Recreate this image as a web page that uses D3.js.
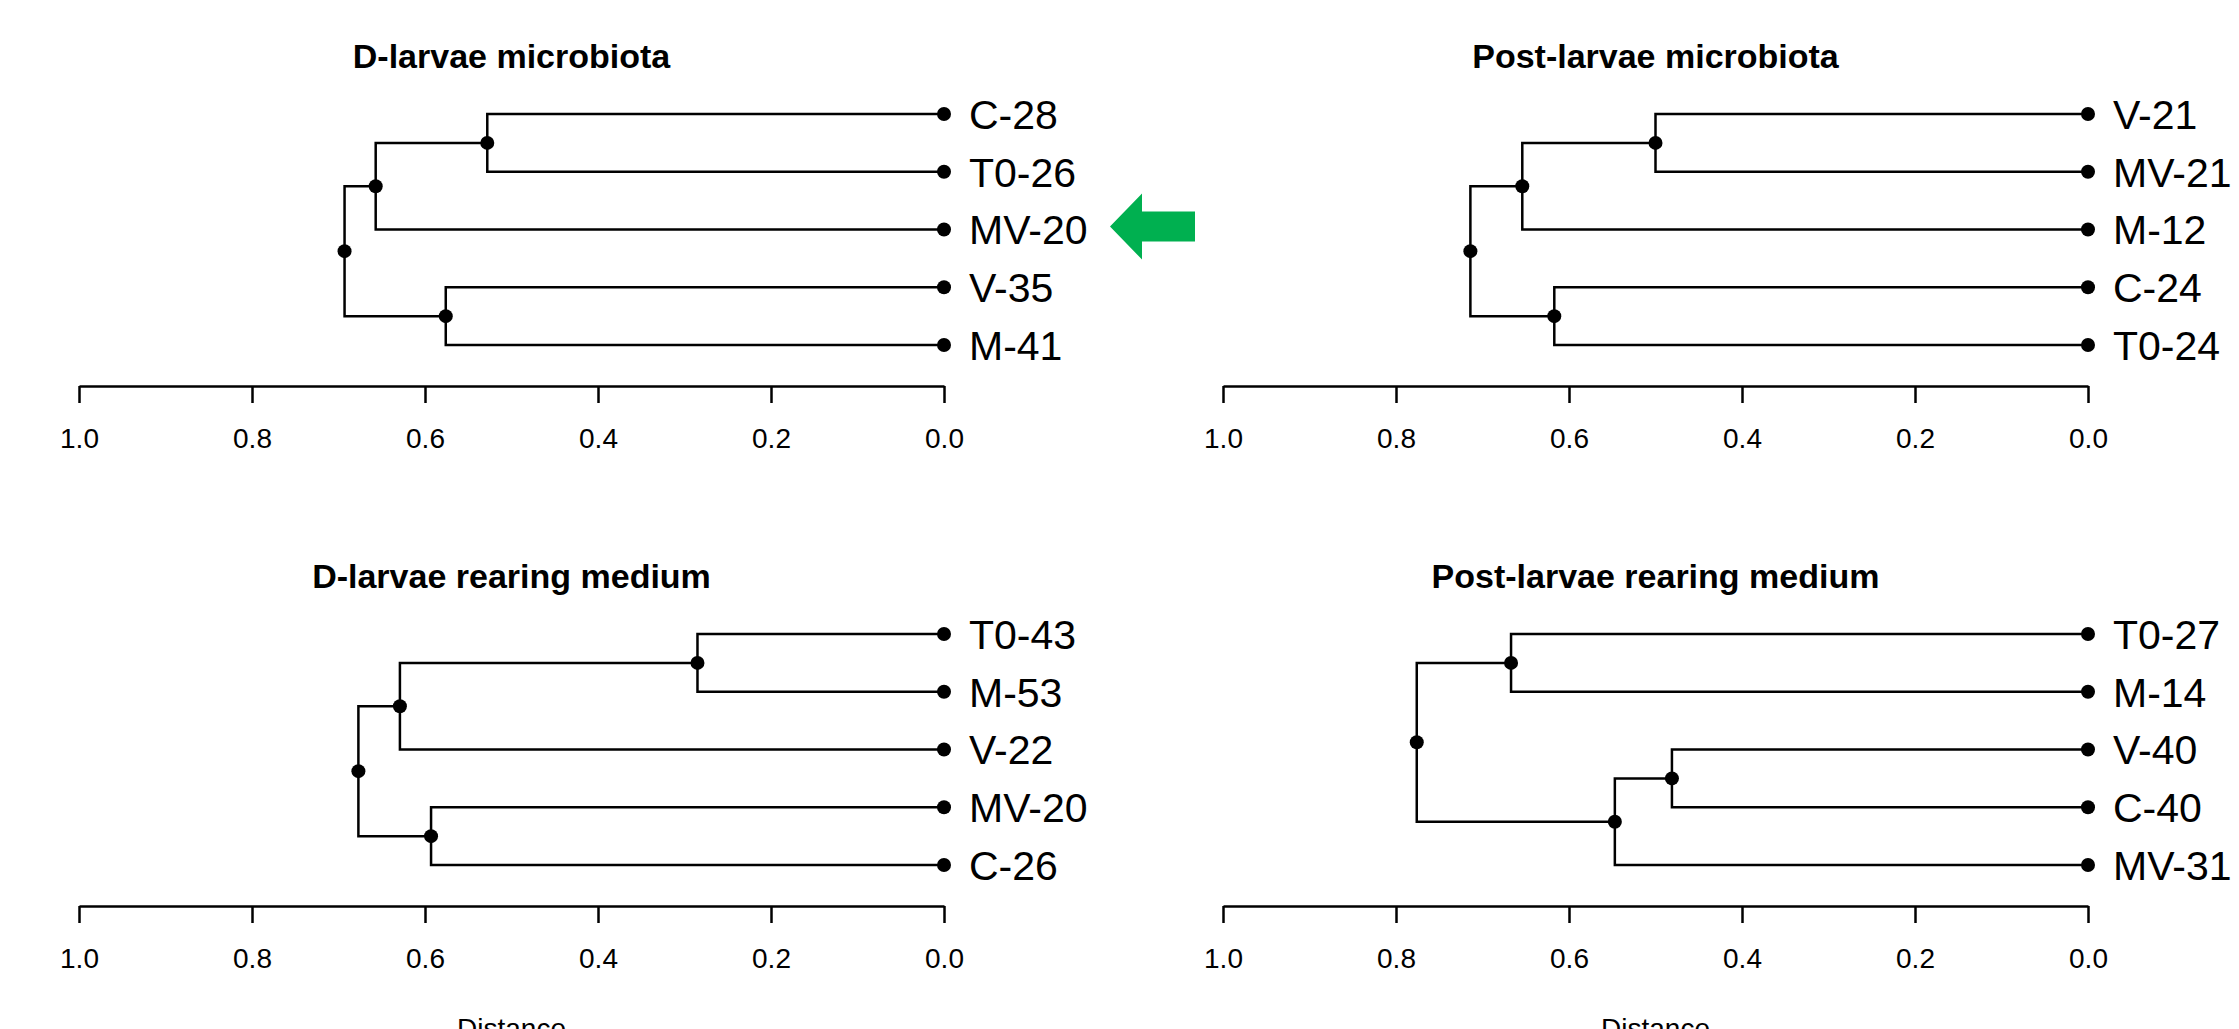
<!DOCTYPE html>
<html>
<head>
<meta charset="utf-8">
<script src="https://cdn.jsdelivr.net/npm/d3@7"></script>
<style>
  body { margin: 0; background: #fff; }
  svg { display: block; }
  text { font-family: Arial, "Liberation Sans", sans-serif; fill: #000; }
</style>
</head>
<body>
<script>

// DATA (hclust style: negative = leaf index, positive = earlier merge step)

var titles = ["D-larvae microbiota", "Post-larvae microbiota", "D-larvae rearing medium", "Post-larvae rearing medium"];

var leavesDM = ["C-28", "T0-26", "MV-20", "V-35", "M-41"];
var mergeDM = [[-1, -2], [1, -3], [-4, -5], [2, 3]];
var heightDM = [0.528, 0.657, 0.576, 0.693];

var leavesPM = ["V-21", "MV-21", "M-12", "C-24", "T0-24"];
var mergePM = [[-1, -2], [1, -3], [-4, -5], [2, 3]];
var heightPM = [0.500, 0.654, 0.617, 0.714];

var leavesDR = ["T0-43", "M-53", "V-22", "MV-20", "C-26"];
var mergeDR = [[-1, -2], [1, -3], [-4, -5], [2, 3]];
var heightDR = [0.285, 0.629, 0.593, 0.677];

var leavesPR = ["T0-27", "M-14", "V-40", "C-40", "MV-31"];
var mergePR = [[-1, -2], [-3, -4], [2, -5], [1, 3]];
var heightPR = [0.667, 0.481, 0.547, 0.776];

var tickValues = [1.0, 0.8, 0.6, 0.4, 0.2, 0.0];
var axisTitle = "Distance";
var highlight = "MV-20"; // arrow in first panel

var panels = [
    {title: titles[0], leaves: leavesDM, merge: mergeDM, height: heightDM, col: 0, row: 0, arrow: true},
    {title: titles[1], leaves: leavesPM, merge: mergePM, height: heightPM, col: 1, row: 0},
    {title: titles[2], leaves: leavesDR, merge: mergeDR, height: heightDR, col: 0, row: 1, xlab: true},
    {title: titles[3], leaves: leavesPR, merge: mergePR, height: heightPR, col: 1, row: 1, xlab: true}
];

// PAGE

var width = 2239, height = 1029;

var svg = d3.select("body").append("svg")
    .attr("width", width).attr("height", height);

svg.append("rect").attr("width", width).attr("height", height).attr("fill", "#fff");

var colX = [[79, 944], [1223, 2088]];   // x of distance 1.0 and 0.0
var rowY = [0, 520];
var leafTop = 114, leafBottom = 345, axisY = 386;

panels.forEach(function (p) {
    var g = svg.append("g").attr("transform", "translate(0," + rowY[p.row] + ")");

    var xScale = d3.scaleLinear().domain([1, 0]).range(colX[p.col]);
    var yScale = d3.scalePoint().domain(p.leaves).range([leafTop, leafBottom]);

    // node positions
    var leafPos = p.leaves.map(function (l) { return {x: xScale(0), y: yScale(l)}; });
    var nodePos = [];
    function pos(i) { return i < 0 ? leafPos[-i - 1] : nodePos[i - 1]; }
    p.merge.forEach(function (m, i) {
        var a = pos(m[0]), b = pos(m[1]);
        nodePos.push({x: xScale(p.height[i]), y: (a.y + b.y) / 2, a: a, b: b});
    });

    // branches
    nodePos.forEach(function (n) {
        var path = d3.path();
        path.moveTo(n.a.x, n.a.y);
        path.lineTo(n.x, n.a.y);
        path.lineTo(n.x, n.b.y);
        path.lineTo(n.b.x, n.b.y);
        g.append("path").attr("d", path.toString())
            .attr("fill", "none").attr("stroke", "#000").attr("stroke-width", 2.5);
    });

    // dots
    g.selectAll("circle.node").data(leafPos.concat(nodePos)).enter().append("circle")
        .attr("class", "node")
        .attr("cx", function (d) { return d.x; })
        .attr("cy", function (d) { return d.y; })
        .attr("r", 7)
        .attr("fill", "#000");

    // leaf labels
    g.selectAll("text.leaf").data(p.leaves).enter().append("text")
        .attr("class", "leaf")
        .attr("x", xScale(0) + 25)
        .attr("y", function (d) { return yScale(d); })
        .attr("dy", "0.36em")
        .style("font-size", "41px")
        .text(function (d) { return d; });

    // title
    g.append("text")
        .attr("x", (colX[p.col][0] + colX[p.col][1]) / 2)
        .attr("y", 68)
        .attr("text-anchor", "middle")
        .style("font-size", "34px")
        .style("font-weight", "bold")
        .text(p.title);

    // axis
    var xAxis = d3.axisBottom(xScale)
        .tickValues(tickValues)
        .tickFormat(d3.format(".1f"))
        .tickSize(17)
        .tickSizeOuter(0)
        .tickPadding(25);

    var ax = g.append("g")
        .attr("transform", "translate(0," + axisY + ")")
        .call(xAxis);
    ax.select(".domain").attr("stroke-width", 2.5);
    ax.selectAll(".tick line").attr("stroke-width", 2.5);
    ax.selectAll(".tick text")
        .style("font-family", "Arial, 'Liberation Sans', sans-serif")
        .style("font-size", "28px");

    if (p.xlab) {
        g.append("text")
            .attr("x", (colX[p.col][0] + colX[p.col][1]) / 2)
            .attr("y", 518)
            .attr("text-anchor", "middle")
            .style("font-size", "28px")
            .text(axisTitle);
    }

    // green arrow pointing at highlighted leaf
    if (p.arrow) {
        var ay = yScale(highlight) - 3;
        var tip = 1110;
        var arrow = d3.path();
        arrow.moveTo(tip, ay);
        arrow.lineTo(tip + 32, ay - 33);
        arrow.lineTo(tip + 32, ay - 15);
        arrow.lineTo(tip + 85, ay - 15);
        arrow.lineTo(tip + 85, ay + 15);
        arrow.lineTo(tip + 32, ay + 15);
        arrow.lineTo(tip + 32, ay + 33);
        arrow.closePath();
        g.append("path").attr("d", arrow.toString()).attr("fill", "#00B050");
    }
});

</script>
</body>
</html>
